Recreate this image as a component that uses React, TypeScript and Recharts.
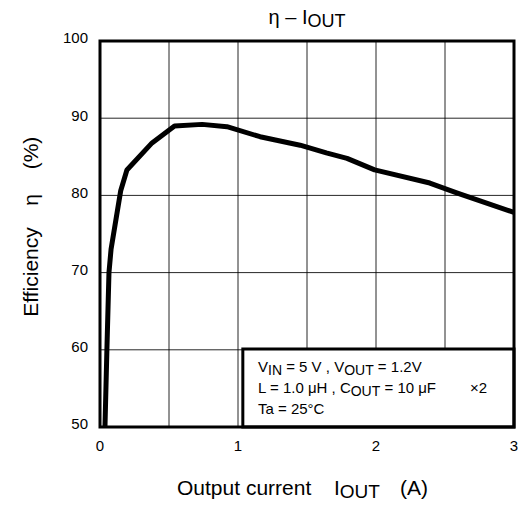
import React from 'react';
import { LineChart, Line, XAxis, YAxis, CartesianGrid, ReferenceArea } from 'recharts';

// output current (A) and efficiency (%)
const currentA = [0.036, 0.05, 0.065, 0.08, 0.15, 0.195, 0.377, 0.54, 0.74, 0.92, 1.16, 1.45, 1.64, 1.79, 1.99, 2.39, 2.59, 3.0];
const efficiencyPct = [50, 60, 70, 73, 80.6, 83.3, 86.8, 89.0, 89.2, 88.9, 87.6, 86.5, 85.5, 84.8, 83.3, 81.6, 80.3, 77.8];

const xTicks = [0, 0.5, 1, 1.5, 2, 2.5, 3];
const yTicks = [50, 60, 70, 80, 90, 100];

const data = currentA.map((x, i) => ({ x, eff: efficiencyPct[i] }));

const FONT = '"Liberation Sans", Arial, sans-serif';

// only the whole amps get a label, the half-amp ticks just carry a grid line
const XTick = (props: any) => {
  const { x, y, payload } = props;
  if (!Number.isInteger(payload.value)) return <g />;
  return (
    <text x={x} y={y} dy="0.71em" textAnchor="middle" fontSize={15} fill="#000" fontFamily={FONT}>
      {payload.value}
    </text>
  );
};

const App = () => {
  return (
    <div style={{ position: 'absolute', left: 0, top: 0, width: 518, height: 506, background: '#fff', fontFamily: FONT }}>
      <LineChart
        width={518}
        height={506}
        data={data}
        margin={{ top: 41, right: 4, bottom: 0, left: 0 }}
        style={{ position: 'absolute', left: 0, top: 0 }}
      >
        <CartesianGrid stroke="#000" strokeWidth={1} strokeOpacity={0.85} />
        <XAxis
          dataKey="x"
          type="number"
          domain={[0, 3]}
          ticks={xTicks}
          height={79}
          axisLine={false}
          tickLine={false}
          tickSize={0}
          tickMargin={13}
          tick={<XTick />}
          interval={0}
        />
        <YAxis
          type="number"
          domain={[50, 100]}
          ticks={yTicks}
          width={100}
          axisLine={false}
          tickLine={false}
          tickSize={0}
          tickMargin={12}
          tick={{ fontSize: 15, fill: '#000', fontFamily: FONT, dy: -3 }}
          interval={0}
        />
        <ReferenceArea x1={1.035} x2={3} y1={50} y2={60.1} fill="#fff" fillOpacity={1} stroke="#000" strokeWidth={3} />
        <Line
          type="linear"
          dataKey="eff"
          stroke="#000"
          strokeWidth={5}
          strokeLinejoin="round"
          dot={false}
          isAnimationActive={false}
        />
        <ReferenceArea x1={0} x2={3} y1={50} y2={100} fill="none" stroke="#000" strokeWidth={3} />
      </LineChart>

      <svg width={518} height={506} style={{ position: 'absolute', left: 0, top: 0, pointerEvents: 'none' }} fontFamily={FONT}>
        <text x={307} y={24} fontSize={20} textAnchor="middle" fill="#000">
          <tspan>η – I</tspan>
          <tspan dy={3} fontSize={18}>OUT</tspan>
        </text>

        <text x={30} y={272} fontSize={21} textAnchor="middle" dominantBaseline="central" transform="rotate(-90 30 272)" fill="#000">
          Efficiency
        </text>
        <text x={30} y={200} fontSize={21} textAnchor="middle" dominantBaseline="central" transform="rotate(-90 30 200)" fill="#000">
          η
        </text>
        <text x={30} y={153} fontSize={21} textAnchor="middle" dominantBaseline="central" transform="rotate(-90 30 153)" fill="#000">
          (%)
        </text>

        <text x={177} y={495} fontSize={21} fill="#000">
          <tspan>Output current</tspan>
          <tspan x={334}>I</tspan>
          <tspan dy={3} fontSize={19}>OUT</tspan>
          <tspan x={400} dy={-3}>(A)</tspan>
        </text>

        <text x={258} y={372} fontSize={15} fill="#000" xmlSpace="preserve" style={{ whiteSpace: 'pre' }}>
          <tspan>V</tspan>
          <tspan dy={3} fontSize={14}>IN</tspan>
          <tspan dy={-3}>{' = 5 V , V'}</tspan>
          <tspan dy={3} fontSize={14}>OUT</tspan>
          <tspan dy={-3}>{' = 1.2V'}</tspan>
        </text>
        <text x={258} y={393} fontSize={15} fill="#000" xmlSpace="preserve" style={{ whiteSpace: 'pre' }}>
          <tspan>{'L = 1.0 μH , C'}</tspan>
          <tspan dy={3} fontSize={14}>OUT</tspan>
          <tspan dy={-3}>{' = 10 μF'}</tspan>
          <tspan x={470}>×2</tspan>
        </text>
        <text x={258} y={414} fontSize={15} fill="#000">Ta = 25°C</text>
      </svg>
    </div>
  );
};

export default App;
